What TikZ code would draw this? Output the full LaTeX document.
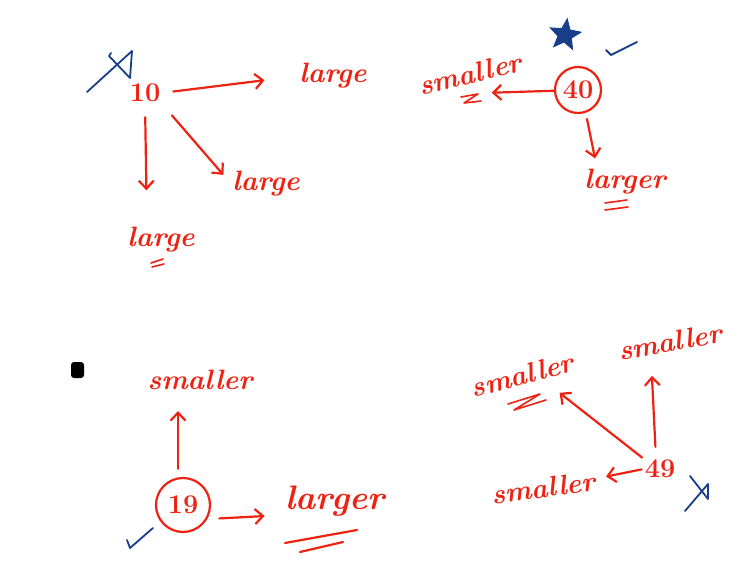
\documentclass[tikz,border=0pt]{standalone}
\usepackage{tikz}
\usetikzlibrary{arrows.meta,shapes.geometric}

\definecolor{penred}{RGB}{238,34,18}
\definecolor{penblue}{RGB}{24,62,138}

\begin{document}
\begin{tikzpicture}[x=1pt,y=-1pt,
    pen/.style={penred, line width=2.2pt, line cap=round, line join=round},
    ink/.style={penblue, line width=1.8pt, line cap=round, line join=round},
    arr/.style={pen, -{Straight Barb[length=8pt,width=15pt]}},
    word/.style={penred, inner sep=1pt, font=\fontsize{28}{30}\selectfont\bfseries\itshape},
    num/.style={penred, inner sep=1pt, font=\fontsize{27}{29}\selectfont\bfseries},
    ring/.style={num, draw=penred, circle, line width=2.2pt}]

    \useasboundingbox (0,0) rectangle (753,588);

    % tree of 10
    \node[num] (n10) at (145,93) {10};
    \node[word] (la) at (333,76) {large};
    \node[word] (lb) at (266,184) {large};
    \node[word] (lc) at (161,240) {large};
    \draw[arr, shorten <=12pt, shorten >=34pt] (n10.east) -- (la.west);
    \draw[arr, shorten <=16pt, shorten >=12pt] (n10.south east) -- (lb.west);
    \draw[arr, shorten <=14pt, shorten >=36pt] (n10.south) -- ([xshift=-14pt]lc.north);
    \draw[pen, line width=1.6pt] (151,263) -- (163,259) (152,267) -- (164,264);
    \draw[ink] (87,92) -- (132,51) -- (130,78) -- (109,56) -- (111,53);

    % tree of 40
    \node[ring, minimum size=46pt] (n40) at (578,90) {40};
    \node[word, rotate=14] (s1) at (470,74) {smaller};
    \node[word] (l1) at (625,182) {larger};
    \draw[arr] (n40) -- ([xshift=19pt,yshift=-8pt]s1.south);
    \draw[arr, shorten <=5pt, shorten >=10pt] ([xshift=8pt]n40.south) -- ([xshift=-28pt]l1.north);
    \draw[pen, line width=1.6pt] (461,97) -- (478,94) -- (464,103) -- (481,101);
    \draw[pen, line width=1.6pt] (605,203) -- (627,200) (605,210) -- (628,207);
    \node[star, star points=5, star point ratio=2.3, draw=penblue, fill=penblue,
          line width=2.6pt, minimum size=28pt, inner sep=0pt, rotate=-8] (star) at (565,35) {};
    \draw[ink] (606,50) -- (611,55) -- (637,42);

    % tree of 19
    \node[ring, minimum size=54pt] (n19) at (183,505) {19};
    \node[word] (s2) at (200,380) {smaller};
    \node[word, font=\fontsize{34}{36}\selectfont\bfseries\itshape] (l2) at (335,501) {larger};
    \draw[arr, shorten <=8pt, shorten >=20pt] ([xshift=-5pt]n19.north) -- ([xshift=-22pt]s2.south);
    \draw[arr, shorten <=12pt, shorten >=20pt] (n19.-30) -- ([yshift=-14pt]l2.west);
    \draw[pen] (285,543) -- (357,530) (300,552) -- (343,542);
    \draw[ink] (127,540) -- (130,548) -- (153,528);
    \fill[black, rounded corners=3pt] (71,362) rectangle (84,378);

    % tree of 49
    \node[num] (n49) at (660,469) {49};
    \node[word, rotate=15] (s3) at (522,375) {smaller};
    \node[word, rotate=10] (s4) at (670,342) {smaller};
    \node[word, rotate=8] (s5) at (543,488) {smaller};
    \draw[arr, shorten <=2pt] (n49.north west) -- ([xshift=-17pt,yshift=-21pt]s3.south east);
    \draw[arr, shorten <=12pt] ([xshift=-4pt]n49.north) -- ([xshift=-20pt,yshift=-23pt]s4.south);
    \draw[arr, shorten <=2pt] (n49.west) -- ([xshift=10pt,yshift=4pt]s5.east);
    \draw[pen, line width=1.6pt] (508,404) -- (540,394) -- (514,410) -- (546,400);
    \draw[ink] (685,511) -- (708,484) -- (708,499) -- (690,476);
\end{tikzpicture}
\end{document}
